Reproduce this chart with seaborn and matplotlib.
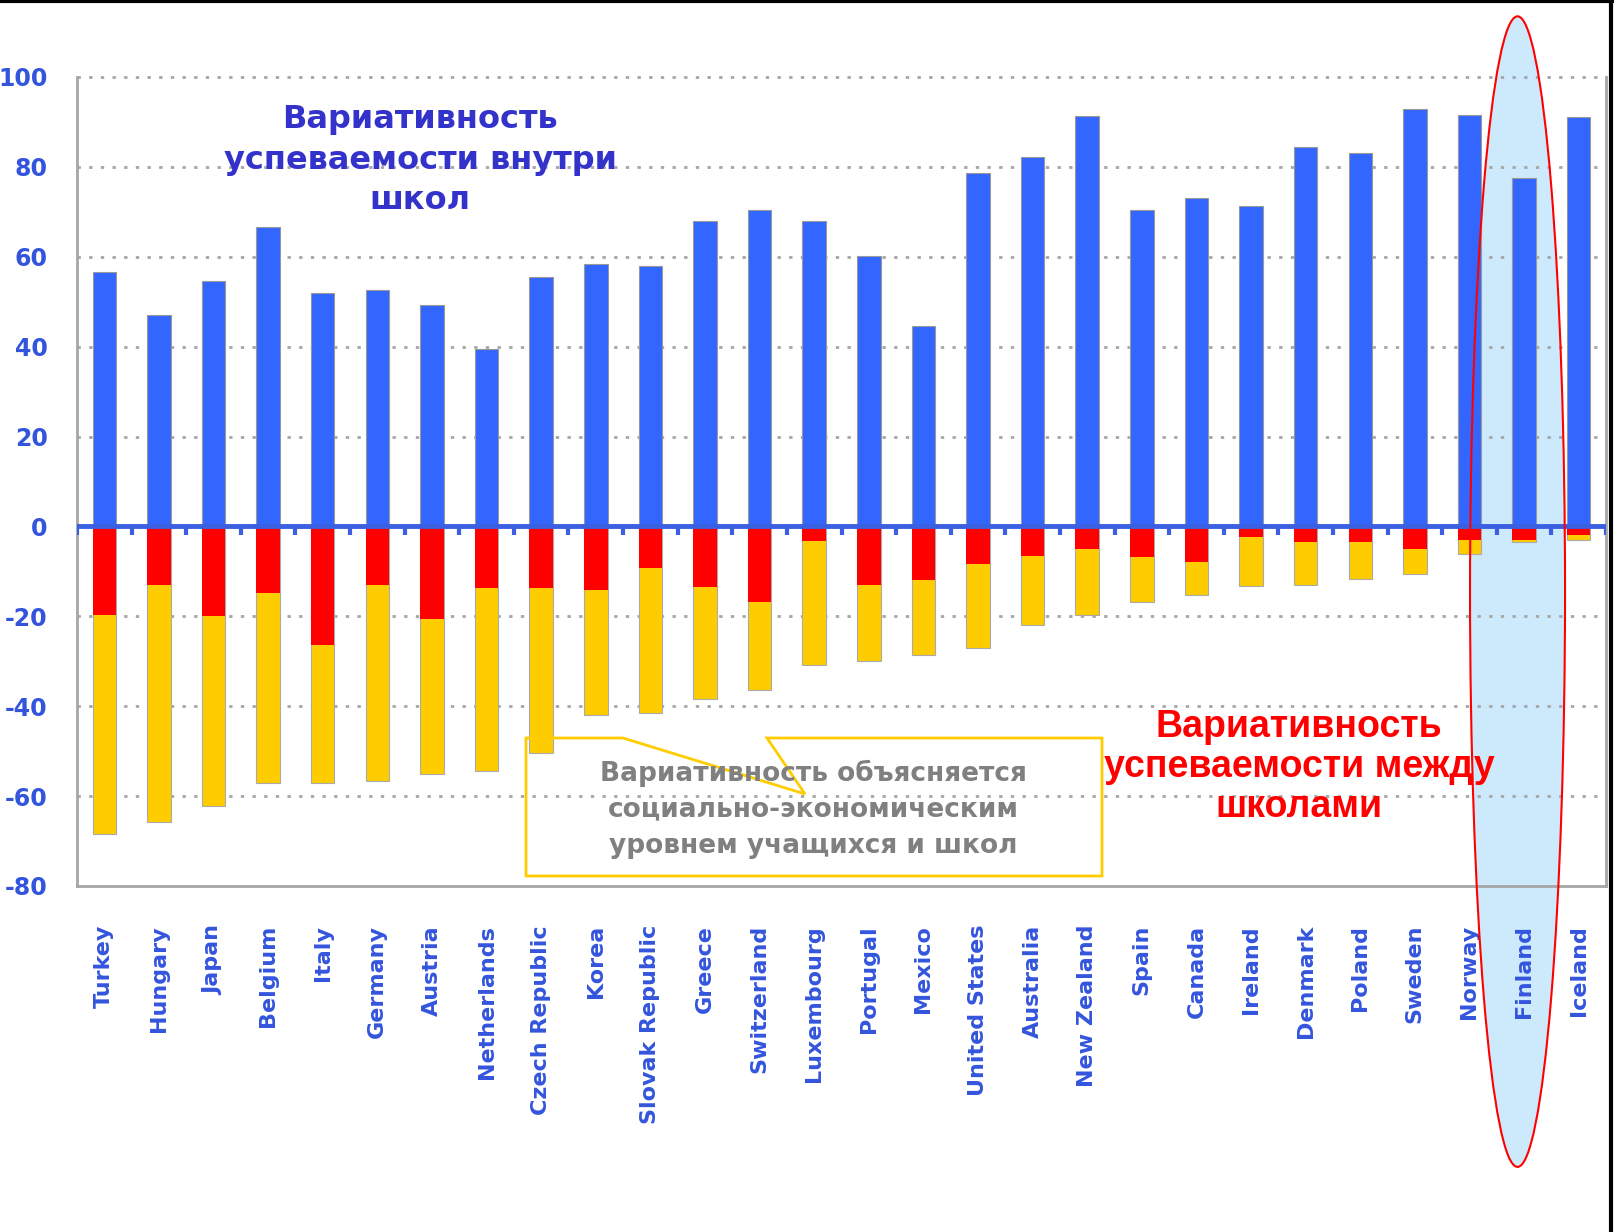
import numpy as np
import pandas as pd
import matplotlib
matplotlib.use("Agg")
import matplotlib.pyplot as plt
import seaborn as sns
from matplotlib.patches import Ellipse, Polygon
from matplotlib.lines import Line2D

# ==========================================
# DATA
# ==========================================

countries = [
    "Turkey", "Hungary", "Japan", "Belgium", "Italy", "Germany", "Austria",
    "Netherlands", "Czech Republic", "Korea", "Slovak Republic", "Greece",
    "Switzerland", "Luxembourg", "Portugal", "Mexico", "United States",
    "Australia", "New Zealand", "Spain", "Canada", "Ireland", "Denmark",
    "Poland", "Sweden", "Norway", "Finland", "Iceland",
]

# variation within schools (plotted upwards)
within = [56.6, 47.1, 54.7, 66.7, 52.0, 52.7, 49.2, 39.5, 55.4, 58.5, 57.9,
          68.0, 70.3, 67.9, 60.2, 44.7, 78.6, 82.3, 91.3, 70.3, 73.1, 71.2,
          84.4, 83.2, 92.9, 91.6, 77.5, 91.0]

# variation between schools, total (plotted downwards)
between_total = [68.5, 65.8, 62.1, 57.0, 57.0, 56.6, 55.0, 54.4, 50.5, 41.9,
                 41.6, 38.4, 36.3, 30.8, 29.9, 28.6, 27.1, 21.9, 19.7, 16.7,
                 15.2, 13.2, 13.0, 11.7, 10.6, 6.2, 3.4, 3.1]

# part of between-school variation explained by socio-economic background
between_explained = [19.7, 13.0, 19.9, 14.8, 26.4, 13.0, 20.6, 13.6, 13.6,
                     14.1, 9.2, 13.4, 16.7, 3.2, 13.0, 12.0, 8.3, 6.5, 5.1,
                     6.9, 7.8, 2.3, 3.5, 3.5, 5.1, 3.1, 3.0, 2.0]

y_ticks = [-80, -60, -40, -20, 0, 20, 40, 60, 80, 100]

df = pd.DataFrame({
    "Country": countries,
    "Within": within,
    "BetweenTotal": [-v for v in between_total],
    "BetweenExplained": [-v for v in between_explained],
})

BLUE = "#3366ff"
RED = "#ff0000"
YELLOW = "#ffcc00"
LABEL_BLUE = "#3355dd"
GRID = "#a6a6a6"

# ==========================================
# FIGURE
# ==========================================

sns.set_style("white")
plt.rcParams["font.family"] = ["DejaVu Sans"]
plt.rcParams["axes.unicode_minus"] = False

W, H = 1614, 1232
fig = plt.figure(figsize=(W / 100, H / 100), dpi=100)


def fx(px):
    return px / W


def fy(py):
    return 1 - py / H


ax = fig.add_axes([fx(77), fy(886), fx(1606 - 77), (886 - 77) / H])

n = len(countries)

# highlight ellipse around Finland (fill behind everything)
fin = countries.index("Finland")
ell_fill = Ellipse((fin - 0.12, -14.5), 1.74, 256, facecolor="#cceafb",
                   edgecolor="none", zorder=0.1, clip_on=False)
ax.add_patch(ell_fill)

sns.barplot(data=df, x="Country", y="Within", color=BLUE, saturation=1,
            width=0.43, edgecolor="#999999", linewidth=0.8, ax=ax, zorder=2)
sns.barplot(data=df, x="Country", y="BetweenTotal", color=YELLOW, saturation=1,
            width=0.43, edgecolor="#aaaaaa", linewidth=0.8, ax=ax, zorder=2)
sns.barplot(data=df, x="Country", y="BetweenExplained", color=RED, saturation=1,
            width=0.43, edgecolor="none", linewidth=0, ax=ax, zorder=2.1)

ax.set_xlim(-0.5, n - 0.5)
ax.set_ylim(-80, 100)
ax.set_xlabel("")
ax.set_ylabel("")

# grid
ax.set_yticks(y_ticks)
for v in y_ticks:
    if v in (0, -80):
        continue
    ax.axhline(v, color=GRID, lw=2, ls=(0, (1.2, 3)), zorder=0.5,
               clip_on=False)

# zero line with small ticks between categories
ax.axhline(0, color="#3a5fe0", lw=3.5, zorder=3)
ax.vlines(np.arange(n + 1) - 0.5, -2.0, 0, color="#3a5fe0", lw=3, zorder=3)

# spines
for side in ["left", "right", "bottom"]:
    ax.spines[side].set_color(GRID)
    ax.spines[side].set_linewidth(2)
ax.spines["top"].set_visible(False)

ax.tick_params(axis="y", length=10, width=1.5, color=GRID, pad=11,
               labelsize=17, labelcolor=LABEL_BLUE)
for lab in ax.get_yticklabels():
    lab.set_fontweight("bold")

ax.tick_params(axis="x", length=0, pad=28, labelsize=16,
               labelcolor=LABEL_BLUE)
ax.set_xticks(range(n))
ax.set_xticklabels(countries, rotation=90, va="top", ha="center",
                   fontweight="bold")

# ellipse outline on top
ell_edge = Ellipse((fin - 0.12, -14.5), 1.74, 256, facecolor="none",
                   edgecolor="red", lw=1.5, zorder=6, clip_on=False)
ax.add_patch(ell_edge)

# ==========================================
# ANNOTATIONS
# ==========================================

fig.text(fx(420), fy(160), "Вариативность\nуспеваемости внутри\nшкол",
         ha="center", va="center", fontsize=23, fontweight="bold",
         color="#3333cc", linespacing=1.4, zorder=7)

fig.text(fx(1299), fy(767), "Вариативность\nуспеваемости между\nшколами",
         ha="center", va="center", fontsize=27, fontweight="bold",
         color="red", family=["Liberation Sans", "DejaVu Sans"],
         linespacing=1.15, zorder=7)

callout = [(767, 738), (1102, 738), (1102, 876), (526, 876), (526, 738),
           (623, 738), (805, 794)]
poly = Polygon([(fx(x), fy(y)) for x, y in callout], closed=True,
               transform=fig.transFigure, facecolor="none",
               edgecolor=YELLOW, lw=2, zorder=7)
fig.add_artist(poly)

fig.text(fx(813), fy(809),
         "Вариативность объясняется\nсоциально-экономическим\nуровнем учащихся и школ",
         ha="center", va="center", fontsize=19, fontweight="bold",
         color="#808080", linespacing=1.5, zorder=8)

# frame lines at top and right edge of the picture
fig.add_artist(Line2D([0, 1], [0.999, 0.999], transform=fig.transFigure,
                      color="black", lw=3))
fig.add_artist(Line2D([0.998, 0.998], [0, 1], transform=fig.transFigure,
                      color="black", lw=3))

fig.savefig("out.png", dpi=100)
